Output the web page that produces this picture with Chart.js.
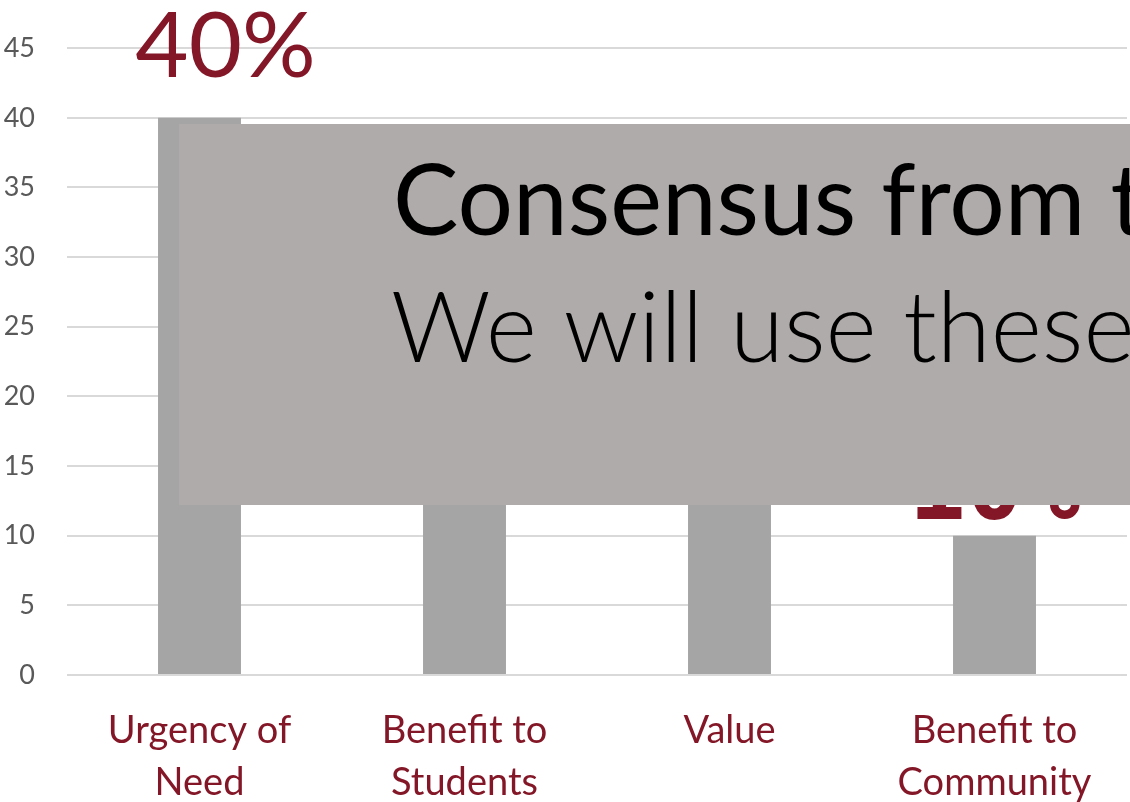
<!doctype html>
<html lang="en">
<head>
  <meta charset="UTF-8">
  <title>Criteria</title>
  <script src="https://cdn.jsdelivr.net/npm/chart.js@4.4.0/dist/chart.umd.min.js"></script>
  <style>
      body { margin: 0; background: #fff; }
      canvas { display: block; }
  </style>
</head>
<body>

<canvas id="myChart" width="1130" height="802"></canvas>

<script>
  const categories = [['Urgency of', 'Need'], ['Benefit to', 'Students'], ['Value'], ['Benefit to', 'Community']]
  const shares = [40, 25, 25, 10]
  const yTicks = [0, 5, 10, 15, 20, 25, 30, 35, 40, 45]

  const maroon = '#841727'
  const font = 'Lato, "Open Sans", sans-serif'

  // per-bar label look, nudged like the hand-placed labels on the slide
  const labelStyle = [
    { font: '400 92px ' + font, dx: 26, dy: -41 },
    { font: '400 92px ' + font, dx: 0, dy: -20 },
    { font: '400 92px ' + font, dx: 0, dy: -20 },
    { font: 'bold 95px "DejaVu Sans Mono", monospace', dx: 0, dy: -17 }
  ]

  const valueLabels = {
    id: 'valueLabels',
    afterDatasetsDraw(chart) {
      const ctx = chart.ctx
      const meta = chart.getDatasetMeta(0)
      ctx.save()
      ctx.fillStyle = maroon
      ctx.textAlign = 'center'
      ctx.textBaseline = 'alphabetic'
      meta.data.forEach((bar, i) => {
        const st = labelStyle[i]
        ctx.font = st.font
        ctx.fillText(shares[i] + '%', bar.x + st.dx, bar.y + st.dy)
      })
      ctx.restore()
    }
  }

  // grey title box laid over the chart
  const titleBox = {
    id: 'titleBox',
    afterDraw(chart) {
      const ctx = chart.ctx
      ctx.save()
      ctx.fillStyle = '#afabaa'
      ctx.fillRect(179, 124, chart.width - 179, 381)
      ctx.fillStyle = '#000'
      ctx.textAlign = 'left'
      ctx.textBaseline = 'alphabetic'
      ctx.font = '400 98px ' + font
      ctx.fillText('Consensus from the', 393, 235)
      ctx.font = '300 98px ' + font
      ctx.fillText('We will use these', 391, 362)
      ctx.restore()
    }
  }

  const chart = new Chart(document.querySelector('#myChart'), {
    type: 'bar',
    plugins: [valueLabels, titleBox],
    data: {
      labels: categories,
      datasets: [{
        data: shares,
        backgroundColor: '#a5a5a5',
        barPercentage: 0.313,
        categoryPercentage: 1
      }]
    },
    options: {
      responsive: false,
      animation: false,
      layout: { padding: { top: 48, right: 3, left: 0, bottom: 0 } },
      plugins: {
        legend: { display: false },
        tooltip: { enabled: false }
      },
      scales: {
        x: {
          grid: { display: false },
          border: { display: false },
          ticks: {
            color: maroon,
            font: { family: font, size: 38, lineHeight: 1.37 },
            padding: 22,
            maxRotation: 0,
            autoSkip: false
          },
          afterFit: (s) => { s.height = 127 }
        },
        y: {
          min: 0,
          max: 45,
          afterBuildTicks: (s) => { s.ticks = yTicks.map(v => ({ value: v })) },
          grid: { color: '#d9d9d9', lineWidth: 2, drawTicks: false },
          border: { display: false },
          ticks: {
            color: '#595959',
            font: { family: font, size: 27 },
            padding: 32
          },
          afterFit: (s) => { s.width = 67 }
        }
      }
    }
  })
</script>

</body>
</html>
